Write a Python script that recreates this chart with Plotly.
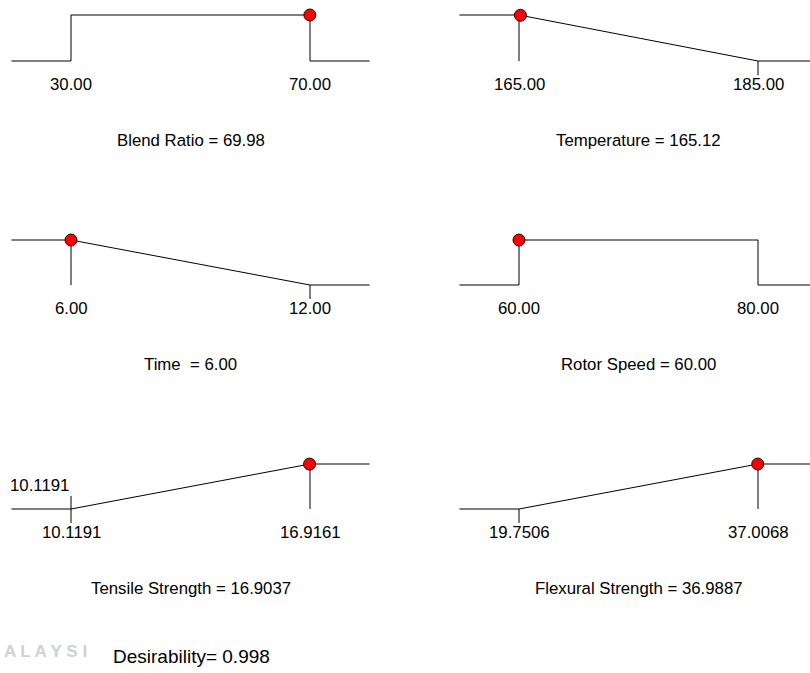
import plotly.graph_objects as go

# ---------------- data ----------------
names = ["Blend Ratio", "Temperature", "Time", "Rotor Speed", "Tensile Strength", "Flexural Strength"]
goals = ["range", "min", "min", "range", "max", "max"]
lows = [30.00, 165.00, 6.00, 60.00, 10.1191, 19.7506]
highs = [70.00, 185.00, 12.00, 80.00, 16.9161, 37.0068]
low_labels = ["30.00", "165.00", "6.00", "60.00", "10.1191", "19.7506"]
high_labels = ["70.00", "185.00", "12.00", "80.00", "16.9161", "37.0068"]
values = [69.98, 165.12, 6.00, 60.00, 16.9037, 36.9887]
value_labels = ["69.98", "165.12", "6.00", "60.00", "16.9037", "36.9887"]
title_fmt = ["{} = {}", "{} = {}", "{} &nbsp;= {}", "{} = {}", "{} = {}", "{} = {}"]
desirability_total = "0.998"

# ---------------- layout constants (pixels) ----------------
W, H = 810, 673
col_lo_px = [71, 519]
col_hi_px = [310, 758]
col_right_edge = [370, 810]
row_top_px = [15, 240, 464]
row_base_px = [61, 285, 509]
FONT = "Liberation Sans, Arial, sans-serif"
FS = 16.8


def desir(goal, lo, hi, v):
    if goal == "range":
        return 1.0 if lo <= v <= hi else 0.0
    if goal == "min":
        return max(0.0, min(1.0, (hi - v) / (hi - lo)))
    return max(0.0, min(1.0, (v - lo) / (hi - lo)))


fig = go.Figure()
layout = dict(
    width=W, height=H, margin=dict(l=0, r=0, t=0, b=0),
    paper_bgcolor="white", plot_bgcolor="rgba(0,0,0,0)", showlegend=False,
)
annotations = []
Y0, Y1 = -0.6, 1.3

for i in range(6):
    r, c = divmod(i, 2)
    lo, hi, goal = lows[i], highs[i], goals[i]
    d = hi - lo
    ppu = (col_hi_px[c] - col_lo_px[c]) / d
    xmin = lo - d / 4
    xmax = min(hi + d / 4, hi + (col_right_edge[c] - col_hi_px[c]) / ppu)
    left_px = col_lo_px[c] - (lo - xmin) * ppu
    right_px = col_hi_px[c] + (xmax - hi) * ppu

    unit = row_base_px[r] - row_top_px[r]
    top_px = row_top_px[r] - (Y1 - 1) * unit
    bot_px = row_base_px[r] - Y0 * unit

    k = "" if i == 0 else str(i + 1)
    xa, ya = "x" + k, "y" + k
    layout["xaxis" + k] = dict(domain=[max(0, left_px / W), min(1, right_px / W)], range=[xmin, xmax],
                               visible=False, fixedrange=True, anchor=ya)
    layout["yaxis" + k] = dict(domain=[1 - bot_px / H, 1 - top_px / H], range=[Y0, Y1],
                               visible=False, fixedrange=True, anchor=xa)

    line = dict(color="black", width=1)
    ext_l, ext_r = lo - d / 4, hi + d / 4
    if goal == "range":
        xs = [ext_l, lo, lo, hi, hi, ext_r]
        ys = [0, 0, 1, 1, 0, 0]
    elif goal == "min":
        xs = [ext_l, lo, hi, ext_r, None, lo, lo, None, hi, hi]
        ys = [1, 1, 0, 0, None, 1, 0, None, 0, -0.31]
    else:
        tick_top = 0.29 if i == 4 else 0
        xs = [ext_l, lo, hi, ext_r, None, hi, hi, None, lo, lo]
        ys = [0, 0, 1, 1, None, 1, 0, None, tick_top, -0.31]
    fig.add_trace(go.Scatter(x=xs, y=ys, mode="lines", line=line, xaxis=xa, yaxis=ya,
                             hoverinfo="skip"))

    dv = desir(goal, lo, hi, values[i])
    fig.add_trace(go.Scatter(x=[values[i]], y=[dv], mode="markers", xaxis=xa, yaxis=ya,
                             marker=dict(size=12, color="#ff0000", line=dict(color="#300000", width=1)),
                             cliponaxis=False))

    f = dict(family=FONT, size=FS, color="black")
    annotations.append(dict(x=lo, y=0, xref=xa, yref=ya, text=low_labels[i], showarrow=False,
                            yshift=-23, font=f, xanchor="center", yanchor="middle"))
    annotations.append(dict(x=hi, y=0, xref=xa, yref=ya, text=high_labels[i], showarrow=False,
                            yshift=-23, font=f, xanchor="center", yanchor="middle"))
    annotations.append(dict(x=(lo + hi) / 2, y=0, xref=xa, yref=ya,
                            text=title_fmt[i].format(names[i], value_labels[i]), showarrow=False,
                            yshift=-79, font=f, xanchor="center", yanchor="middle"))
    if i == 4:
        annotations.append(dict(x=xmin, y=0, xref=xa, yref=ya, text=low_labels[i], showarrow=False,
                                yshift=23, xshift=-3, font=f, xanchor="left", yanchor="middle"))

# faint watermark fragment
annotations.append(dict(x=2 / W, y=1 - 651 / H, xref="paper", yref="paper", text="A L A Y S I",
                        showarrow=False, xanchor="left", yanchor="middle",
                        font=dict(family="Liberation Sans, Arial", size=17, color="#cdd1da", weight="bold")))
# overall desirability
annotations.append(dict(x=191 / W, y=1 - 656 / H, xref="paper", yref="paper",
                        text="Desirability= " + desirability_total, showarrow=False,
                        xanchor="center", yanchor="middle",
                        font=dict(family="Liberation Sans, Arial", size=19, color="black")))

layout["annotations"] = annotations
fig.update_layout(**layout)
fig.write_html("out.html", config={"displayModeBar": False})
